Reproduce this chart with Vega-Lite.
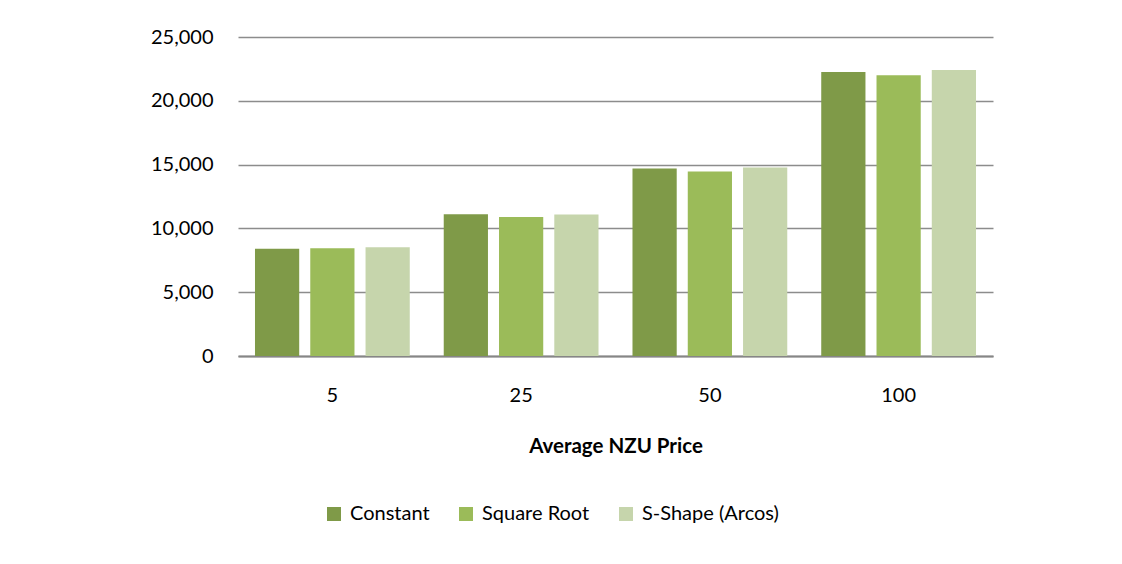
{
  "$schema": "https://vega.github.io/schema/vega-lite/v6.json",
  "width": 755,
  "height": 319,
  "autosize": {"type": "none"},
  "padding": {"left": 238, "top": 37, "right": 129, "bottom": 208},
  "background": "white",
  "config": {
    "view": {"stroke": null},
    "font": "Lato",
    "axis": {"labelFont": "Lato", "titleFont": "Lato", "labelColor": "#000000", "titleColor": "#000000"}
  },
  "data": {
    "values": [
      {"price": "5", "method": "Constant", "value": 8410},
      {"price": "5", "method": "Square Root", "value": 8440},
      {"price": "5", "method": "S-Shape (Arcos)", "value": 8520},
      {"price": "25", "method": "Constant", "value": 11100},
      {"price": "25", "method": "Square Root", "value": 10900},
      {"price": "25", "method": "S-Shape (Arcos)", "value": 11090},
      {"price": "50", "method": "Constant", "value": 14700},
      {"price": "50", "method": "Square Root", "value": 14450},
      {"price": "50", "method": "S-Shape (Arcos)", "value": 14780},
      {"price": "100", "method": "Constant", "value": 22260},
      {"price": "100", "method": "Square Root", "value": 22000},
      {"price": "100", "method": "S-Shape (Arcos)", "value": 22410}
    ]
  },
  "mark": {"type": "bar"},
  "encoding": {
    "x": {
      "field": "price", "type": "nominal", "sort": ["5", "25", "50", "100"],
      "scale": {"paddingInner": 0.18, "paddingOuter": 0.09},
      "axis": {
        "title": "Average NZU Price", "titleFontSize": 20.5, "titleFontWeight": "bold",
        "titlePadding": 31, "labelAngle": 0, "labelFontSize": 20, "labelPadding": 29,
        "ticks": false, "domainColor": "#868686", "domainWidth": 2
      }
    },
    "xOffset": {
      "field": "method", "type": "nominal",
      "sort": ["Constant", "Square Root", "S-Shape (Arcos)"],
      "scale": {"paddingInner": 0.2, "paddingOuter": 0}
    },
    "y": {
      "field": "value", "type": "quantitative",
      "scale": {"domain": [0, 25000]},
      "axis": {
        "title": null, "values": [0, 5000, 10000, 15000, 20000, 25000], "format": ",d",
        "labelFontSize": 20, "labelPadding": 25, "ticks": false, "domain": false,
        "gridColor": "#8c8c8c", "gridWidth": 1.3
      }
    },
    "color": {
      "field": "method", "type": "nominal",
      "sort": ["Constant", "Square Root", "S-Shape (Arcos)"],
      "scale": {"domain": ["Constant", "Square Root", "S-Shape (Arcos)"], "range": ["#7f9a48", "#9bbb59", "#c6d5ac"]},
      "legend": {
        "title": null, "orient": "none", "legendX": 86, "legendY": 467, "direction": "horizontal",
        "symbolType": "square", "symbolSize": 196, "symbolStrokeWidth": 0,
        "labelFontSize": 20, "labelFont": "Lato", "labelColor": "#000000", "columnPadding": 26, "labelOffset": 6
      }
    }
  }
}
